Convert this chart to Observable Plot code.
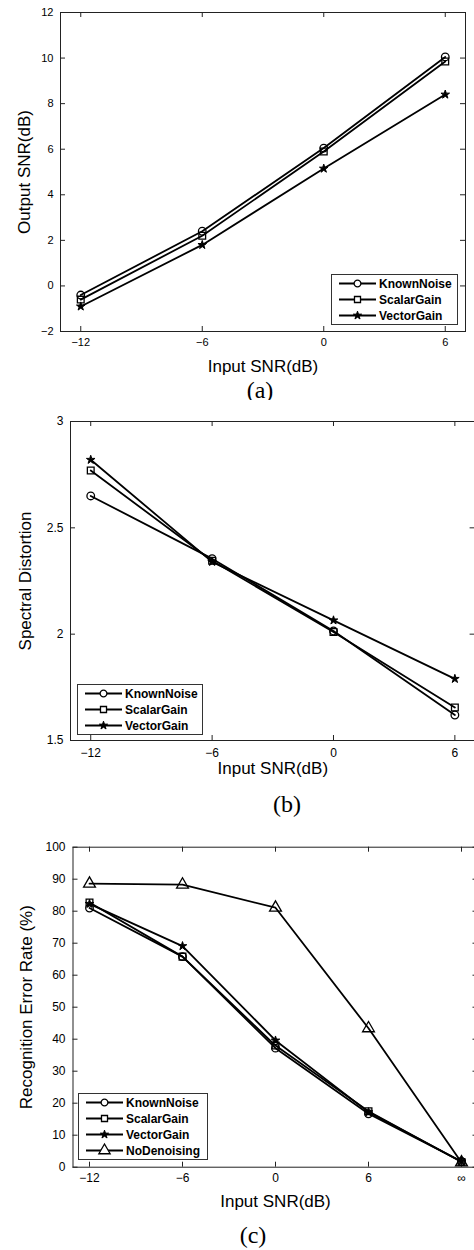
<!DOCTYPE html>
<html><head><meta charset="utf-8">
<script src="https://cdn.jsdelivr.net/npm/d3@7"></script>
<script src="https://cdn.jsdelivr.net/npm/@observablehq/plot@0.6"></script>
<style>
html,body{margin:0;padding:0;background:#fff;overflow:hidden;}
#page{position:relative;width:474px;height:1250px;overflow:hidden;font-family:"Liberation Sans",Arial,sans-serif;color:#000;background:#fff;}
.panel{position:absolute;left:0;}
.caption{position:absolute;font-family:"Liberation Serif","Times New Roman",serif;font-size:24px;line-height:1;transform:translate(-50%,-50%);white-space:nowrap;}
.legend{position:absolute;}
</style></head><body><div id="page"></div><script>
// ---------- data ----------
const seriesNames = ["KnownNoise", "ScalarGain", "VectorGain", "NoDenoising"];
const seriesSymbols = ["circle", "square", "star", "triangle"];

// panel (a): Output SNR vs Input SNR
const snrA = [-12, -6, 0, 6];
const outKnown = [-0.4, 2.4, 6.05, 10.05];
const outScalar = [-0.6, 2.2, 5.9, 9.85];
const outVector = [-0.9, 1.8, 5.15, 8.4];
const yTicksA = [-2, 0, 2, 4, 6, 8, 10, 12];

// panel (b): Spectral distortion vs Input SNR
const snrB = [-12, -6, 0, 6];
const sdKnown = [2.65, 2.355, 2.015, 1.62];
const sdScalar = [2.77, 2.345, 2.01, 1.655];
const sdVector = [2.82, 2.34, 2.065, 1.79];
const yTicksB = [1.5, 2, 2.5, 3];

// panel (c): Recognition error rate vs Input SNR
const snrC = ["\u221212", "\u22126", "0", "6", "\u221e"];
const erKnown = [81, 65.8, 37.2, 16.7, 1.8];
const erScalar = [82.7, 65.8, 38, 17.5, 1.6];
const erVector = [82.3, 69.1, 39.6, 17.2, 1.8];
const erNoDen = [88.6, 88.3, 81.1, 43.4, 1.5];
const yTicksC = [0, 10, 20, 30, 40, 50, 60, 70, 80, 90, 100];

const xTicksAB = [-12, -6, 0, 6];

// ---------- helpers ----------
const minus = d => d < 0 ? "\u2212" + Math.abs(d) : String(d);
const page = document.getElementById("page");

function rows(xs, ys) { return xs.map((x, i) => ({x, y: ys[i]})); }

function symR(sym) { return sym === "triangle" ? 4.4 : sym === "star" ? 2.7 : 3.8; }

function panel(cfg) {
  const H = cfg.height - cfg.mt - cfg.mb;
  const W = cfg.width - cfg.ml - cfg.mr;
  const TK = 5;
  const marks = [];
  cfg.series.forEach((s) => {
    const data = rows(cfg.xs, s.values);
    marks.push(Plot.line(data, {x: "x", y: "y", stroke: "black", strokeWidth: 1.8}));
  });
  cfg.series.forEach((s) => {
    const data = rows(cfg.xs, s.values);
    const sym = seriesSymbols[seriesNames.indexOf(s.name)];
    const filled = sym === "star";
    marks.push(Plot.dot(data, {x: "x", y: "y", symbol: sym, r: symR(sym),
      stroke: "black", strokeWidth: filled ? 1 : 1.3, fill: filled ? "black" : "none"}));
  });
  const p = Plot.plot({
    width: cfg.width, height: cfg.height,
    marginTop: cfg.mt, marginRight: cfg.mr, marginBottom: cfg.mb, marginLeft: cfg.ml,
    style: {fontFamily: "'Liberation Sans', Arial, sans-serif", color: "black", background: "white", maxWidth: "none", overflow: "visible"},
    x: cfg.x, y: cfg.y,
    marks: [
      Plot.frame({stroke: "#222", strokeWidth: 1}),
      // inward ticks on all four sides
      Plot.ruleX(cfg.xTicks, {x: d => d, insetTop: H - TK, stroke: "#222", strokeWidth: 1}),
      Plot.ruleX(cfg.xTicks, {x: d => d, insetBottom: H - TK, stroke: "#222", strokeWidth: 1}),
      Plot.ruleY(cfg.yTicks, {y: d => d, insetRight: W - TK, stroke: "#222", strokeWidth: 1}),
      Plot.ruleY(cfg.yTicks, {y: d => d, insetLeft: W - TK, stroke: "#222", strokeWidth: 1}),
      Plot.axisX(cfg.xTicks, {anchor: "bottom", tickSize: 0, tickPadding: cfg.xPad, tickFormat: cfg.xfmt, fontSize: cfg.fs, label: null}),
      Plot.axisY(cfg.yTicks, {anchor: "left", tickSize: 0, tickPadding: cfg.yPad, tickFormat: cfg.yfmt, fontSize: cfg.fs, label: null}),
      Plot.text([cfg.xLabel], {text: d => d, frameAnchor: "bottom", dy: cfg.xLabelDy, fontSize: 17, lineAnchor: "middle", textAnchor: "middle"}),
      Plot.text([cfg.yLabel], {text: d => d, frameAnchor: "left", dx: cfg.yLabelDx, rotate: -90, fontSize: 17, lineAnchor: "middle", textAnchor: "middle"}),
      ...marks
    ]
  });
  const wrap = document.createElement("div");
  wrap.className = "panel";
  wrap.style.top = cfg.top + "px";
  wrap.appendChild(p);
  page.appendChild(wrap);

  // caption
  const cap = document.createElement("div");
  cap.className = "caption";
  cap.textContent = cfg.caption;
  cap.style.left = cfg.capX + "px";
  cap.style.top = cfg.capY + "px";
  page.appendChild(cap);

  // legend
  const L = cfg.legend;
  const n = cfg.series.length;
  const h = 16 * n + 3;
  const svg = d3.select(page).append("svg").attr("class", "legend")
    .attr("width", L.w).attr("height", h)
    .style("left", L.x + "px").style("top", L.y + "px");
  svg.append("rect").attr("x", 0.5).attr("y", 0.5).attr("width", L.w - 1).attr("height", h - 1)
    .attr("fill", "white").attr("stroke", "#333").attr("stroke-width", 1);
  cfg.series.forEach((s, i) => {
    const cy = 9.5 + 16 * i;
    const sym = seriesSymbols[seriesNames.indexOf(s.name)];
    svg.append("line").attr("x1", 8).attr("x2", 45).attr("y1", cy).attr("y2", cy)
      .attr("stroke", "black").attr("stroke-width", 1.8);
    const symType = {circle: d3.symbolCircle, square: d3.symbolSquare, star: d3.symbolStar, triangle: d3.symbolTriangle}[sym];
    const r = sym === "triangle" ? 4.2 : sym === "star" ? 2.6 : 3.4;
    svg.append("path").attr("d", d3.symbol(symType, Math.PI * r * r)())
      .attr("transform", `translate(26.5,${cy})`)
      .attr("fill", sym === "star" ? "black" : "white").attr("stroke", "black").attr("stroke-width", sym === "star" ? 1 : 1.3);
    svg.append("text").attr("x", 48).attr("y", cy).attr("dy", "0.35em")
      .attr("font-family", "'Liberation Sans', Arial, sans-serif").attr("font-weight", "bold").attr("font-size", 12)
      .text(s.name);
  });
}

panel({
  top: 0, width: 474, height: 380, mt: 12, mr: 9, mb: 49, ml: 60,
  x: {type: "linear", domain: [-13, 7]}, y: {domain: [-2, 12]},
  xs: snrA, xTicks: xTicksAB, yTicks: yTicksA, xfmt: minus, yfmt: minus, fs: 11, xPad: 6.5, yPad: 7,
  series: [{name: "KnownNoise", values: outKnown}, {name: "ScalarGain", values: outScalar}, {name: "VectorGain", values: outVector}],
  xLabel: "Input SNR(dB)", yLabel: "Output SNR(dB)", xLabelDy: 35, yLabelDx: -36,
  caption: "(a)", capX: 260, capY: 390,
  legend: {x: 331, y: 274, w: 127}
});

panel({
  top: 400, width: 480, height: 390, mt: 21, mr: 5.4, mb: 50, ml: 70,
  x: {type: "linear", domain: [-13, 7]}, y: {domain: [1.5, 3]},
  xs: snrB, xTicks: xTicksAB, yTicks: yTicksB, xfmt: minus, yfmt: d => String(d), fs: 12, xPad: 7.5, yPad: 7,
  series: [{name: "KnownNoise", values: sdKnown}, {name: "ScalarGain", values: sdScalar}, {name: "VectorGain", values: sdVector}],
  xLabel: "Input SNR(dB)", yLabel: "Spectral Distortion", xLabelDy: 28, yLabelDx: -44.5,
  caption: "(b)", capX: 287, capY: 804,
  legend: {x: 77, y: 684, w: 126}
});

panel({
  top: 820, width: 480, height: 400, mt: 26.7, mr: 2.5, mb: 53.3, ml: 72.5,
  x: {type: "point", domain: snrC, padding: 1 / 6}, y: {domain: [0, 100]},
  xs: snrC, xTicks: snrC, yTicks: yTicksC, xfmt: d => d, yfmt: d => String(d), fs: 12, xPad: 6.3, yPad: 7.5,
  series: [{name: "KnownNoise", values: erKnown}, {name: "ScalarGain", values: erScalar}, {name: "VectorGain", values: erVector}, {name: "NoDenoising", values: erNoDen}],
  xLabel: "Input SNR(dB)", yLabel: "Recognition Error Rate (%)", xLabelDy: 34, yLabelDx: -46.8,
  caption: "(c)", capX: 253, capY: 1235,
  legend: {x: 78, y: 1093, w: 130}
});
</script></body></html>
